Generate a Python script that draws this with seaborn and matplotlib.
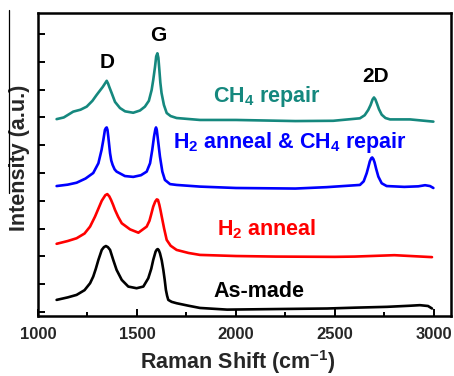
import numpy as np
import pandas as pd
import matplotlib
matplotlib.use("Agg")
import matplotlib.pyplot as plt
from matplotlib.lines import Line2D
from matplotlib.ticker import MultipleLocator
import seaborn as sns

# ---------------- data ----------------
asmade_x = [1094, 1150, 1195, 1235, 1263, 1279, 1292, 1305, 1322, 1333, 1343, 1353, 1364,
            1380, 1397, 1423, 1456, 1498, 1532, 1557, 1572, 1582, 1594, 1600, 1605, 1610,
            1616, 1625, 1633, 1640, 1646, 1652, 1658, 1675, 1700, 1760, 1818, 1955, 2200,
            2460, 2600, 2763, 2880, 2929, 2970, 2990]
asmade_y = [0.43, 0.52, 0.61, 0.78, 1.03, 1.27, 1.55, 1.87, 2.23, 2.33, 2.37, 2.33, 2.23,
            1.87, 1.51, 1.15, 0.91, 0.85, 0.91, 1.21, 1.55, 1.87, 2.17, 2.24, 2.26, 2.22,
            2.11, 1.85, 1.51, 1.15, 0.79, 0.58, 0.43, 0.36, 0.31, 0.22, 0.14, 0.08, 0.10,
            0.12, 0.15, 0.18, 0.22, 0.24, 0.21, 0.12]

h2_x = [1094, 1150, 1195, 1235, 1263, 1288, 1313, 1322, 1330, 1340, 1350, 1360, 1369,
        1379, 1389, 1405, 1423, 1465, 1507, 1549, 1563, 1571, 1582, 1592, 1600, 1606,
        1613, 1619, 1625, 1637, 1650, 1670, 1700, 1760, 1818, 2000, 2200, 2500, 2600,
        2800, 2990]
h2_y = [2.45, 2.55, 2.65, 2.82, 3.07, 3.43, 3.85, 4.00, 4.09, 4.20, 4.24, 4.16, 4.03,
        3.86, 3.67, 3.42, 3.19, 2.97, 2.85, 3.07, 3.28, 3.49, 3.79, 3.97, 4.05, 4.03,
        3.85, 3.65, 3.43, 3.00, 2.59, 2.38, 2.23, 2.12, 2.05, 2.01, 1.99, 1.98, 1.99,
        2.04, 1.97]

h2ch4_x = [1094, 1150, 1195, 1240, 1279, 1305, 1321, 1330, 1338, 1343, 1347, 1351, 1355,
           1364, 1370, 1377, 1387, 1397, 1439, 1481, 1520, 1549, 1566, 1577, 1586, 1592,
           1596, 1600, 1604, 1610, 1616, 1628, 1641, 1667, 1700, 1818, 2000, 2300, 2458,
           2626, 2645, 2660, 2668, 2676, 2683, 2688, 2694, 2700, 2708, 2719, 2736, 2761,
           2850, 2921, 2955, 2980, 2997]
h2ch4_y = [4.53, 4.58, 4.65, 4.80, 5.00, 5.35, 5.83, 6.19, 6.55, 6.62, 6.64, 6.55, 6.31,
           5.71, 5.45, 5.29, 5.13, 5.05, 4.89, 4.86, 4.92, 5.05, 5.35, 5.83, 6.31, 6.55,
           6.64, 6.55, 6.31, 5.95, 5.59, 5.05, 4.75, 4.60, 4.57, 4.51, 4.46, 4.44, 4.49,
           4.57, 4.70, 4.99, 5.20, 5.42, 5.53, 5.56, 5.50, 5.38, 5.15, 4.87, 4.63, 4.53,
           4.50, 4.52, 4.56, 4.53, 4.46]

ch4_x = [1094, 1130, 1178, 1215, 1246, 1275, 1296, 1312, 1327, 1338, 1347, 1354, 1360,
         1372, 1389, 1414, 1440, 1481, 1515, 1540, 1560, 1574, 1582, 1591, 1597, 1603,
         1608, 1613, 1618, 1624, 1636, 1650, 1670, 1700, 1818, 2000, 2300, 2491, 2626,
         2650, 2668, 2680, 2690, 2697, 2704, 2712, 2722, 2736, 2755, 2778, 2879, 2997]
ch4_y = [6.94, 7.00, 7.21, 7.28, 7.39, 7.60, 7.81, 7.96, 8.10, 8.22, 8.32, 8.22, 8.10,
         7.88, 7.56, 7.34, 7.22, 7.17, 7.25, 7.39, 7.60, 7.99, 8.35, 8.82, 9.20, 9.31,
         9.15, 8.71, 8.25, 7.88, 7.45, 7.16, 7.05, 6.98, 6.91, 6.91, 6.87, 6.88, 6.97,
         7.08, 7.27, 7.45, 7.65, 7.72, 7.65, 7.50, 7.30, 7.10, 6.98, 6.93, 6.93, 6.85]

series_names = ["As-made", "H2 anneal", "H2 anneal & CH4 repair", "CH4 repair"]
series_colors = ["#000000", "#ff0000", "#0000ff", "#15887e"]

peak_labels = ["D", "G", "2D"]
peak_label_x = [1348, 1606, 2707]
peak_label_y = [8.99, 9.96, 8.47]

curve_labels = [r"As-made", r"H$_2$ anneal", r"H$_2$ anneal & CH$_4$ repair", r"CH$_4$ repair"]
curve_label_x = [1885, 1903, 1680, 1884]
curve_label_y = [0.55, 2.77, 5.89, 7.55]

x_ticks = [1000, 1500, 2000, 2500, 3000]

# ---------------- style ----------------
sns.set_style("ticks")
plt.rcParams["font.family"] = ["Liberation Sans", "DejaVu Sans"]
plt.rcParams["font.weight"] = "bold"
plt.rcParams["mathtext.fontset"] = "custom"
plt.rcParams["mathtext.rm"] = "Liberation Sans:bold"
plt.rcParams["mathtext.it"] = "Liberation Sans:bold"
plt.rcParams["mathtext.bf"] = "Liberation Sans:bold"
plt.rcParams["mathtext.default"] = "rm"

df = pd.concat([
    pd.DataFrame({"shift": asmade_x, "intensity": asmade_y, "sample": series_names[0]}),
    pd.DataFrame({"shift": h2_x, "intensity": h2_y, "sample": series_names[1]}),
    pd.DataFrame({"shift": h2ch4_x, "intensity": h2ch4_y, "sample": series_names[2]}),
    pd.DataFrame({"shift": ch4_x, "intensity": ch4_y, "sample": series_names[3]}),
], ignore_index=True)

fig = plt.figure(figsize=(4.54, 3.76), dpi=100)
ax = fig.add_axes([38 / 454, 1 - 316 / 376, (451 - 38) / 454, (316 - 12.5) / 376])

sns.lineplot(data=df, x="shift", y="intensity", hue="sample", hue_order=series_names,
             palette=dict(zip(series_names, series_colors)), sort=False,
             estimator=None, linewidth=1.9, legend=False, ax=ax)

ax.set_xlim(1000, 3086)
ax.set_ylim(-0.15, 10.78)
ax.set_xticks(x_ticks)
ax.xaxis.set_minor_locator(MultipleLocator(250))
ax.set_yticks(np.arange(0, 11, 1))
ax.set_yticklabels([])
ax.tick_params(axis="both", which="both", direction="in", top=False, right=False,
               width=1.4, color="black")
ax.tick_params(axis="x", which="major", length=5, labelsize=12, pad=8)
ax.tick_params(axis="x", which="minor", length=3)
ax.tick_params(axis="y", which="major", length=5)
for lab in ax.get_xticklabels():
    lab.set_fontweight("bold")
for sp in ax.spines.values():
    sp.set_linewidth(1.8)
    sp.set_color("black")

ax.set_xlabel(r"Raman Shift (cm$^{-1}$)", fontsize=15.5, fontweight="bold")
ax.set_ylabel("Intensity (a.u.)", fontsize=15.5, fontweight="bold")
ax.xaxis.set_label_coords((238 - 38) / 413, (316 - 362) / 303.5)
ax.xaxis.label.set_va("center")
ax.yaxis.set_label_coords((20 - 38) / 413, 0.52)
ax.yaxis.label.set_va("center")

for t, x, y in zip(peak_labels, peak_label_x, peak_label_y):
    ax.text(x, y, t, ha="center", va="center", fontsize=15, fontweight="bold", color="black")

for t, x, y, c in zip(curve_labels, curve_label_x, curve_label_y, series_colors):
    ax.text(x, y, t, ha="left", va="baseline", fontsize=15.5, fontweight="bold", color=c)

fig.add_artist(Line2D([9 / 454, 9 / 454], [1 - 10 / 376, 1 - 193 / 376],
                      transform=fig.transFigure, color="black", lw=0.9))

fig.savefig("out.png", dpi=100, facecolor="white")
